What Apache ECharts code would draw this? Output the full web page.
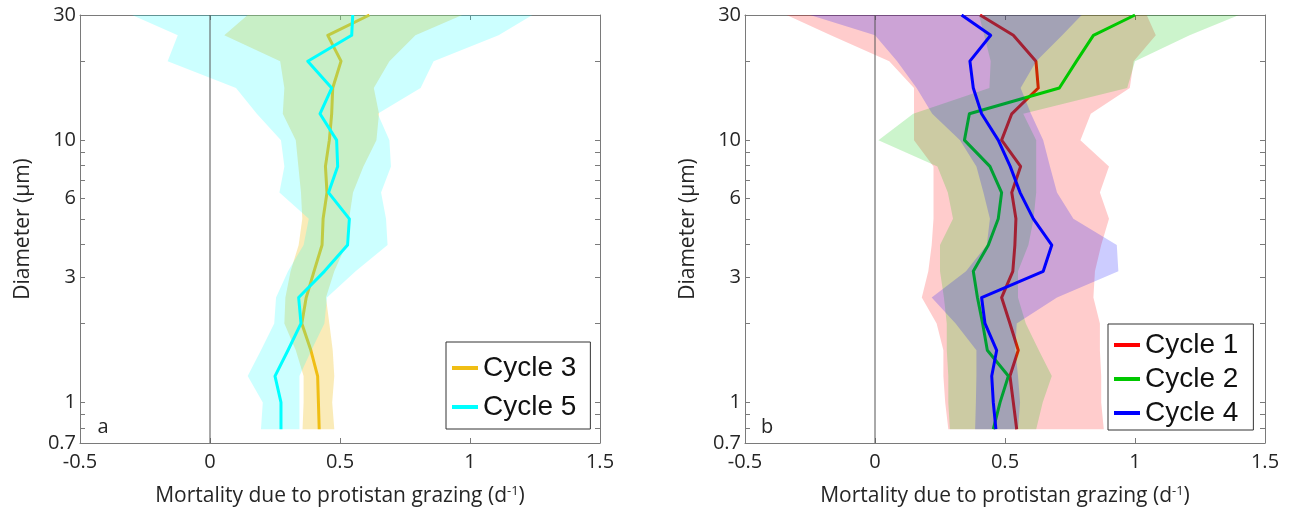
<!DOCTYPE html>
<html>
<head>
<meta charset="utf-8">
<script src="https://cdn.jsdelivr.net/npm/echarts@6/dist/echarts.min.js"></script>
<style>
  html, body { margin: 0; padding: 0; background: #fff; }
  #chart { width: 1290px; height: 515px; }
</style>
</head>
<body>
<div id="chart"></div>
<script>
// Cell diameter bins (µm), smallest to largest
const diameters = [0.79, 1, 1.26, 1.58, 2, 2.51, 3.16, 3.98, 5.01, 6.31, 7.94, 10, 12.6, 15.8, 20, 25.1, 30];

// Panel a: mortality (d^-1) with lower / upper bounds per bin
const cycle3   = [0.42, 0.417, 0.414, 0.388, 0.353, 0.37, 0.40, 0.431, 0.435, 0.45, 0.444, 0.459, 0.468, 0.472, 0.504, 0.453, 0.613];
const cycle3Lo = [0.356, 0.36, 0.36, 0.33, 0.286, 0.29, 0.31, 0.341, 0.355, 0.35, 0.34, 0.33, 0.28, 0.286, 0.27, 0.055, 0.145];
const cycle3Hi = [0.478, 0.47, 0.478, 0.472, 0.459, 0.446, 0.478, 0.523, 0.535, 0.55, 0.59, 0.64, 0.65, 0.63, 0.69, 0.79, 0.97];

const cycle5   = [0.273, 0.273, 0.25, 0.30, 0.35, 0.341, 0.44, 0.529, 0.536, 0.456, 0.491, 0.487, 0.423, 0.468, 0.376, 0.545, 0.549];
const cycle5Lo = [0.196, 0.203, 0.145, 0.196, 0.247, 0.254, 0.30, 0.36, 0.38, 0.267, 0.286, 0.273, 0.18, 0.10, -0.163, -0.124, -0.30];
const cycle5Hi = [0.344, 0.344, 0.344, 0.39, 0.44, 0.45, 0.56, 0.683, 0.677, 0.658, 0.696, 0.69, 0.645, 0.81, 0.86, 1.11, 1.24];

// Panel b
const cycle1   = [0.545, 0.532, 0.519, 0.551, 0.519, 0.487, 0.53, 0.538, 0.542, 0.526, 0.56, 0.487, 0.526, 0.628, 0.619, 0.532, 0.404];
const cycle1Lo = [0.282, 0.27, 0.263, 0.263, 0.237, 0.18, 0.205, 0.218, 0.225, 0.225, 0.225, 0.15, 0.15, 0.15, 0.055, -0.17, -0.34];
const cycle1Hi = [0.88, 0.87, 0.87, 0.865, 0.865, 0.84, 0.846, 0.87, 0.90, 0.865, 0.90, 0.79, 0.83, 0.98, 0.995, 1.08, 1.045];

const cycle2   = [0.455, 0.481, 0.513, 0.432, 0.414, 0.394, 0.378, 0.436, 0.474, 0.487, 0.442, 0.344, 0.363, 0.709, 0.775, 0.84, 1.0];
const cycle2Lo = [0.288, 0.282, 0.282, 0.276, 0.276, 0.265, 0.25, 0.25, 0.30, 0.28, 0.24, 0.013, 0.147, 0.44, 0.445, 0.42, 0.40];
const cycle2Hi = [0.62, 0.645, 0.68, 0.63, 0.58, 0.55, 0.55, 0.59, 0.61, 0.62, 0.62, 0.62, 0.57, 0.97, 1.0, 1.21, 1.40];

const cycle4   = [0.465, 0.455, 0.449, 0.468, 0.423, 0.41, 0.647, 0.68, 0.609, 0.558, 0.52, 0.474, 0.41, 0.378, 0.365, 0.445, 0.333];
const cycle4Lo = [0.385, 0.388, 0.39, 0.39, 0.31, 0.218, 0.35, 0.43, 0.442, 0.417, 0.39, 0.327, 0.22, 0.16, 0.085, 0.0, -0.25];
const cycle4Hi = [0.55, 0.558, 0.55, 0.54, 0.545, 0.70, 0.936, 0.93, 0.763, 0.70, 0.673, 0.647, 0.60, 0.56, 0.62, 0.72, 0.795];

// Axis ticks
const xTicks = [-0.5, 0, 0.5, 1, 1.5];
const yTicks = [0.7, 0.8, 0.9, 1, 2, 3, 4, 5, 6, 7, 8, 9, 10, 20, 30];
const yTickLabels = [0.7, 1, 3, 6, 10, 30];

const Y_MIN = 0.7, Y_MAX = 30;
const LABEL_FONT = "'Open Sans', Lato, sans-serif";
const LEGEND_FONT = "'Liberation Sans', Arial, sans-serif";
const TEXT = '#262626';
const AXIS = '#7a7a7a';

// the diameter axis is logarithmic: values are placed at log10(d)
const lg = Math.log10;
const logD = diameters.map(lg);

function yLabelText(v) {
  const hit = yTickLabels.find(t => Math.abs(lg(t) - v) < 1e-6);
  return hit === undefined ? '' : String(hit);
}

function band(name, lo, hi, fill, gridIndex, z) {
  return {
    type: 'custom',
    name: name,
    xAxisIndex: gridIndex * 2,
    yAxisIndex: gridIndex * 2,
    z: z,
    silent: true,
    clip: true,
    data: diameters.map((d, i) => [lo[i], hi[i], logD[i]]),
    encode: { x: [0, 1], y: 2 },
    renderItem: function (params, api) {
      if (params.dataIndex !== 0) return null;
      const pts = [];
      for (let i = 0; i < diameters.length; i++) pts.push(api.coord([hi[i], logD[i]]));
      for (let i = diameters.length - 1; i >= 0; i--) pts.push(api.coord([lo[i], logD[i]]));
      return { type: 'polygon', shape: { points: pts }, style: { fill: fill } };
    }
  };
}

function profile(name, values, color, gridIndex, z) {
  return {
    type: 'line',
    name: name,
    xAxisIndex: gridIndex * 2,
    yAxisIndex: gridIndex * 2,
    z: z,
    data: diameters.map((d, i) => [values[i], logD[i]]),
    symbol: 'none',
    showSymbol: false,
    silent: true,
    lineStyle: { width: 3, color: color, join: 'round' },
    itemStyle: { color: color }
  };
}

function zeroLine(gridIndex) {
  return {
    type: 'line',
    name: 'zero' + gridIndex,
    xAxisIndex: gridIndex * 2,
    yAxisIndex: gridIndex * 2,
    z: 30,
    silent: true,
    symbol: 'none',
    data: [[0, lg(Y_MIN)], [0, lg(Y_MAX)]],
    lineStyle: { width: 1, color: '#555' }
  };
}

function xAxes(gridIndex) {
  const common = {
    type: 'value', gridIndex: gridIndex, min: -0.5, max: 1.5, interval: 0.5,
    axisLine: { show: true, onZero: false, lineStyle: { color: AXIS, width: 1 } },
    axisTick: { show: true, inside: true, length: 5, lineStyle: { color: AXIS } },
    splitLine: { show: false }
  };
  return [
    Object.assign({}, common, {
      position: 'bottom',
      axisLabel: { show: true, fontSize: 20, color: TEXT, fontFamily: LABEL_FONT, margin: 9 },
      name: 'Mortality due to protistan grazing (d{sup|-1})',
      nameLocation: 'middle',
      nameGap: 42,
      nameMoveOverlap: false,
      nameTextStyle: {
        fontSize: 21, color: TEXT, fontFamily: LABEL_FONT,
        rich: { sup: { fontSize: 13, color: TEXT, fontFamily: LABEL_FONT, padding: [0, 0, 10, 0] } }
      }
    }),
    Object.assign({}, common, { position: 'top', axisLabel: { show: false } })
  ];
}

function yAxes(gridIndex) {
  const common = {
    type: 'value', gridIndex: gridIndex, min: lg(Y_MIN), max: lg(Y_MAX),
    axisLine: { show: true, onZero: false, lineStyle: { color: AXIS, width: 1 } },
    axisTick: { show: true, inside: true, length: 5, lineStyle: { color: AXIS }, customValues: yTicks.map(lg) },
    splitLine: { show: false }
  };
  return [
    Object.assign({}, common, {
      position: 'left',
      axisLabel: {
        show: true, fontSize: 20, color: TEXT, fontFamily: LABEL_FONT, margin: 4,
        customValues: yTickLabels.map(lg), formatter: yLabelText
      },
      name: 'Diameter (μm)',
      nameLocation: 'middle',
      nameGap: 46,
      nameRotate: 90,
      nameMoveOverlap: false,
      nameTextStyle: { fontSize: 21, color: TEXT, fontFamily: LABEL_FONT }
    }),
    Object.assign({}, common, { position: 'right', axisLabel: { show: false } })
  ];
}

const legendCommon = {
  orient: 'vertical', icon: 'rect', itemWidth: 26, itemHeight: 4,
  selectedMode: false, borderColor: '#333', borderWidth: 1, borderRadius: 0,
  backgroundColor: '#fff',
  textStyle: { fontSize: 28, fontFamily: LEGEND_FONT, color: '#111', lineHeight: 30 }
};

const option = {
  animation: false,
  backgroundColor: '#fff',
  grid: [
    { left: 80, top: 15, width: 520, height: 428, containLabel: false, outerBoundsMode: 'none' },
    { left: 745, top: 15, width: 520, height: 428, containLabel: false, outerBoundsMode: 'none' }
  ],
  xAxis: xAxes(0).concat(xAxes(1)),
  yAxis: yAxes(0).concat(yAxes(1)),
  legend: [
    Object.assign({}, legendCommon, {
      data: ['Cycle 3', 'Cycle 5'], left: 446, top: 342, itemGap: 9, padding: [11, 14, 7, 6]
    }),
    Object.assign({}, legendCommon, {
      data: ['Cycle 1', 'Cycle 2', 'Cycle 4'], left: 1108, top: 324, itemGap: 4, padding: [6, 15, 2, 6]
    })
  ],
  graphic: [
    { type: 'text', x: 103, y: 427, silent: true,
      style: { text: 'a', font: '20px ' + LABEL_FONT, fill: TEXT, align: 'center', verticalAlign: 'middle' } },
    { type: 'text', x: 767, y: 427, silent: true,
      style: { text: 'b', font: '20px ' + LABEL_FONT, fill: TEXT, align: 'center', verticalAlign: 'middle' } }
  ],
  series: [
    band('Cycle 3 range', cycle3Lo, cycle3Hi, 'rgba(240,190,20,0.3)', 0, 2),
    profile('Cycle 3', cycle3, '#F0BE14', 0, 3),
    band('Cycle 5 range', cycle5Lo, cycle5Hi, 'rgba(0,255,255,0.2)', 0, 4),
    profile('Cycle 5', cycle5, '#00FFFF', 0, 5),
    zeroLine(0),

    band('Cycle 1 range', cycle1Lo, cycle1Hi, 'rgba(255,0,0,0.2)', 1, 2),
    profile('Cycle 1', cycle1, '#FF0000', 1, 3),
    band('Cycle 2 range', cycle2Lo, cycle2Hi, 'rgba(0,200,0,0.2)', 1, 4),
    profile('Cycle 2', cycle2, '#00C800', 1, 5),
    band('Cycle 4 range', cycle4Lo, cycle4Hi, 'rgba(0,0,255,0.2)', 1, 6),
    profile('Cycle 4', cycle4, '#0000FF', 1, 7),
    zeroLine(1)
  ]
};

const chart = echarts.init(document.getElementById('chart'), null, { renderer: 'canvas' });
chart.setOption(option);
</script>
</body>
</html>
